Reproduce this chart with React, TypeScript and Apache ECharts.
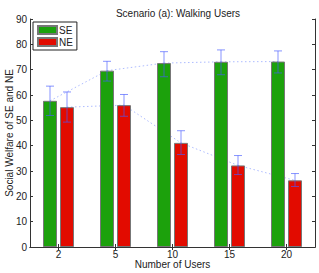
import React, { useEffect, useRef } from "react";
import * as echarts from "echarts";

const categories = ["2", "5", "10", "15", "20"];
const seValues = [57.7, 69.6, 72.6, 73.1, 73.2];
const neValues = [55.2, 56.0, 41.1, 32.2, 26.3];
const seLow = [51.9, 65.5, 67.2, 68.0, 68.7];
const seHigh = [63.5, 73.3, 77.1, 77.8, 77.4];
const neLow = [49.3, 51.6, 36.5, 28.6, 23.9];
const neHigh = [61.2, 60.2, 45.9, 36.1, 29.0];
const yTicks = [0, 10, 20, 30, 40, 50, 60, 70, 80, 90];

const FONT = "Liberation Sans, Arial, sans-serif";
const BAR_W = 14;
const GAP = 3;
const OFF = (BAR_W + GAP) / 2;

function errSeries(name: string, vals: number[], lo: number[], hi: number[], dx: number) {
  return {
    type: "custom",
    name: name + "err",
    z: 5,
    silent: true,
    data: vals.map((v, i) => [i, v, lo[i], hi[i]]),
    encode: { x: 0, y: 1 },
    renderItem: (params: any, api: any) => {
      const i = api.value(0);
      const pLo = api.coord([i, api.value(2)]);
      const pHi = api.coord([i, api.value(3)]);
      const x = pLo[0] + dx;
      const st = { stroke: "rgba(70,90,255,0.65)", lineWidth: 1 };
      const cap = 4;
      return {
        type: "group",
        children: [
          { type: "line", shape: { x1: x, y1: pLo[1], x2: x, y2: pHi[1] }, style: st },
          { type: "line", shape: { x1: x - cap, y1: pLo[1], x2: x + cap, y2: pLo[1] }, style: st },
          { type: "line", shape: { x1: x - cap, y1: pHi[1], x2: x + cap, y2: pHi[1] }, style: st },
        ],
      };
    },
  };
}

function lineSeries(name: string, vals: number[], dx: number) {
  return {
    type: "custom",
    name: name + "line",
    z: 1,
    silent: true,
    data: vals.map((v, i) => [i, v]),
    encode: { x: 0, y: 1 },
    renderItem: (params: any, api: any) => {
      const i = api.value(0);
      if (i >= vals.length - 1) return null;
      const p0 = api.coord([i, vals[i]]);
      const p1 = api.coord([i + 1, vals[i + 1]]);
      return {
        type: "line",
        shape: { x1: p0[0] + dx, y1: p0[1], x2: p1[0] + dx, y2: p1[1] },
        style: { stroke: "rgba(140,160,255,0.7)", lineWidth: 1, lineDash: [1.5, 2.5] },
      };
    },
  };
}

export default function App() {
  const ref = useRef<HTMLDivElement>(null);
  useEffect(() => {
    if (!ref.current) return;
    const chart = echarts.init(ref.current, undefined, { renderer: "svg" });
    const axisLine = { show: true, lineStyle: { color: "#333", width: 1 } };
    const tick = { show: true, inside: true, length: 3, lineStyle: { color: "#333" } };
    chart.setOption({
      animation: false,
      backgroundColor: "#fff",
      textStyle: { fontFamily: FONT },
      title: {
        text: "Scenario (a): Walking Users",
        left: 173,
        textAlign: "center",
        top: 3,
        textStyle: { fontSize: 10, fontWeight: "normal", color: "#222", fontFamily: FONT },
      },
      legend: {
        data: ["SE", "NE"],
        orient: "vertical",
        left: 33,
        top: 22,
        padding: [3, 4, 3, 4],
        itemGap: 2,
        itemWidth: 19,
        itemHeight: 8,
        icon: "rect",
        borderColor: "#222",
        borderWidth: 1,
        backgroundColor: "#fff",
        textStyle: { fontSize: 10, color: "#222", fontFamily: FONT, padding: [0, 0, 0, -3] },
      },
      grid: { left: 30, right: 4, top: 19, bottom: 26, containLabel: false, outerBoundsMode: "none" },
      xAxis: [
        {
          type: "category",
          data: categories,
          position: "bottom",
          axisLine,
          axisTick: { ...tick, alignWithLabel: true },
          axisLabel: { fontSize: 10, color: "#222", margin: 2, fontFamily: FONT },
          name: "Number of Users",
          nameLocation: "middle",
          nameGap: 17,
          nameMoveOverlap: false,
          nameTextStyle: { fontSize: 10, color: "#222", verticalAlign: "middle", fontFamily: FONT },
        },
        {
          type: "category",
          data: categories,
          position: "top",
          axisLine,
          axisTick: { ...tick, alignWithLabel: true },
          axisLabel: { show: false },
        },
      ],
      yAxis: [
        {
          type: "value",
          min: 0,
          max: 90,
          interval: 10,
          axisLine,
          axisTick: tick,
          splitLine: { show: false },
          axisLabel: {
            fontSize: 10,
            color: "#222",
            margin: 3,
            fontFamily: FONT,
            formatter: (v: number) => (yTicks.includes(v) ? String(v) : ""),
          },
          name: "Social Welfare of SE and NE",
          nameLocation: "middle",
          nameGap: 16,
          nameMoveOverlap: false,
          nameTextStyle: { fontSize: 10, color: "#222", fontFamily: FONT },
        },
        {
          type: "value",
          min: 0,
          max: 90,
          interval: 10,
          position: "right",
          axisLine,
          axisTick: tick,
          splitLine: { show: false },
          axisLabel: { show: false },
        },
      ],
      series: [
        lineSeries("SE", seValues, -OFF),
        lineSeries("NE", neValues, OFF),
        {
          type: "bar",
          name: "SE",
          data: seValues,
          barWidth: BAR_W,
          barGap: `${(GAP / BAR_W) * 100}%`,
          z: 2,
          itemStyle: { color: "#1ca10c", borderColor: "#777", borderWidth: 1 },
        },
        {
          type: "bar",
          name: "NE",
          data: neValues,
          barWidth: BAR_W,
          barGap: `${(GAP / BAR_W) * 100}%`,
          z: 2,
          itemStyle: { color: "#e20b00", borderColor: "#777", borderWidth: 1 },
        },
        errSeries("SE", seValues, seLow, seHigh, -OFF),
        errSeries("NE", neValues, neLow, neHigh, OFF),
      ],
    });
    return () => chart.dispose();
  }, []);
  return <div ref={ref} style={{ position: "fixed", left: 0, top: 0, width: 319, height: 273 }} />;
}
